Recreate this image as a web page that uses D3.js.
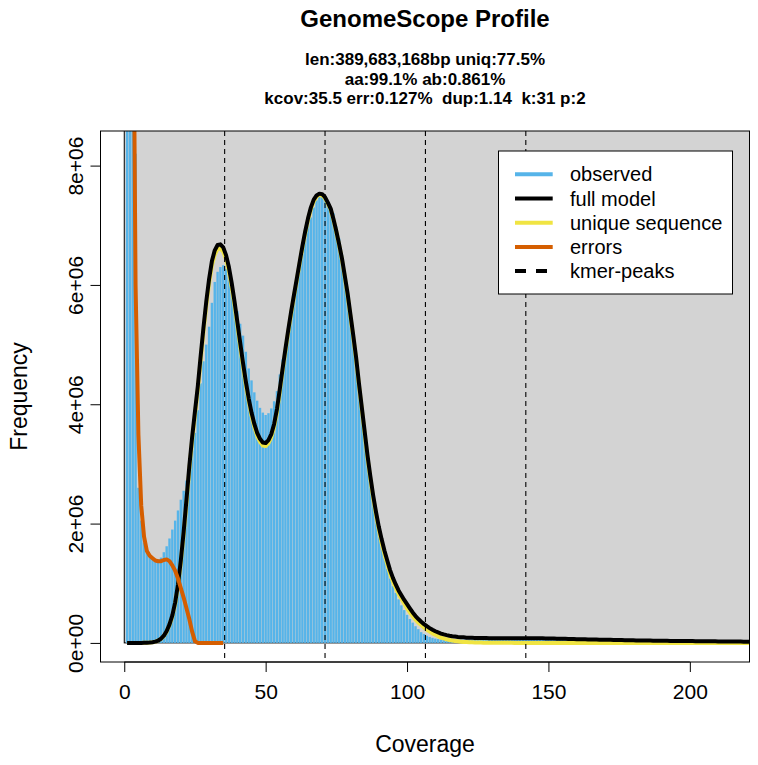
<!DOCTYPE html>
<html>
<head>
<meta charset="utf-8">
<script src="https://cdn.jsdelivr.net/npm/d3@7"></script>
<style>
  html, body { margin: 0; padding: 0; background: #ffffff; }
  svg { display: block; font-family: "Liberation Sans", Arial, Helvetica, sans-serif; }
</style>
</head>
<body>
<svg id="chart" width="758" height="765"></svg>
<script>
// ---------------- DATA (frequencies in units of 1e6) ----------------
const titleText = "GenomeScope Profile";
const subtitleLines = [
  "len:389,683,168bp uniq:77.5%",
  "aa:99.1% ab:0.861%",
  "kcov:35.5 err:0.127%  dup:1.14  k:31 p:2"
];
const xTicks = [0, 50, 100, 150, 200];
const yTicks = [0, 2, 4, 6, 8];
const yTickLabels = ["0e+00", "2e+06", "4e+06", "6e+06", "8e+06"];
const kmerPeaks = [35.5, 71, 106.5, 142];
const legendLabels = ["observed", "full model", "unique sequence", "errors", "kmer-peaks"];

// observed histogram, coverage 1..221
const observed = [
  120, 45, 16, 8.2, 2.6, 2.05, 1.68, 1.52, 1.45, 1.42,
  1.40, 1.40, 1.43, 1.52, 1.62, 1.75, 1.90, 2.05, 2.22, 2.40,
  2.55, 2.72, 2.95, 3.22, 3.52, 3.90, 4.35, 4.72, 5.00, 5.30,
  5.70, 6.05, 6.22, 6.30, 6.33, 6.27, 6.13, 5.98, 5.78, 5.56,
  5.35, 5.15, 4.88, 4.60, 4.40, 4.20, 4.06, 3.94, 3.86, 3.82,
  3.85, 3.93, 4.05, 4.22, 4.50, 4.75, 5.00, 5.25, 5.50, 5.75,
  6.00, 6.28, 6.52, 6.78, 7.00, 7.13, 7.30, 7.42, 7.48, 7.47,
  7.43, 7.37, 7.30, 7.20, 6.98, 6.78, 6.50, 6.20, 5.88, 5.50,
  5.12, 4.72, 4.30, 3.90, 3.50, 3.10, 2.75, 2.42, 2.12, 1.85,
  1.62, 1.42, 1.24, 1.08, 0.95, 0.84, 0.73, 0.63, 0.55, 0.47,
  0.40, 0.34, 0.28, 0.23, 0.18, 0.15, 0.12, 0.10, 0.085, 0.072,
  0.064, 0.058, 0.055, 0.053, 0.052, 0.052, 0.052, 0.053, 0.053, 0.054,
  0.055, 0.056, 0.057, 0.058, 0.059, 0.060, 0.060, 0.061, 0.062, 0.062,
  0.063, 0.063, 0.064, 0.064, 0.065, 0.065, 0.065, 0.066, 0.066, 0.066,
  0.066, 0.066, 0.066, 0.065, 0.065, 0.065, 0.064, 0.064, 0.063, 0.062,
  0.061, 0.060, 0.059, 0.058, 0.057, 0.056, 0.055, 0.054, 0.053, 0.052,
  0.051, 0.050, 0.049, 0.048, 0.047, 0.046, 0.045, 0.044, 0.043, 0.042,
  0.041, 0.040, 0.039, 0.038, 0.037, 0.036, 0.036, 0.035, 0.034, 0.033,
  0.033, 0.032, 0.031, 0.031, 0.030, 0.029, 0.029, 0.028, 0.028, 0.027,
  0.026, 0.026, 0.025, 0.025, 0.024, 0.024, 0.023, 0.023, 0.022, 0.022,
  0.021, 0.021, 0.020, 0.020, 0.020, 0.019, 0.019, 0.018, 0.018, 0.018,
  0.017, 0.017, 0.017, 0.016, 0.016, 0.016, 0.015, 0.015, 0.015, 0.014,
  0.014
];

// full model, coverage 1..221
const fullModel = [
  0.000, 0.000, 0.000, 0.000, 0.000, 0.000, 0.001, 0.003, 0.006, 0.012,
  0.022, 0.040, 0.070, 0.120, 0.200, 0.310, 0.460, 0.680, 0.980, 1.380,
  1.860, 2.400, 2.960, 3.450, 3.880, 4.300, 4.800, 5.280, 5.720, 6.100,
  6.400, 6.580, 6.670, 6.680, 6.630, 6.500, 6.300, 6.030, 5.720, 5.380,
  5.030, 4.690, 4.380, 4.100, 3.860, 3.670, 3.520, 3.420, 3.360, 3.350,
  3.400, 3.500, 3.670, 3.920, 4.250, 4.600, 4.930, 5.250, 5.550, 5.830,
  6.100, 6.380, 6.650, 6.900, 7.120, 7.300, 7.430, 7.500, 7.530, 7.520,
  7.470, 7.380, 7.280, 7.100, 6.900, 6.680, 6.440, 6.150, 5.850, 5.500,
  5.150, 4.780, 4.350, 3.950, 3.550, 3.150, 2.800, 2.480, 2.200, 1.950,
  1.740, 1.550, 1.380, 1.220, 1.090, 0.980, 0.880, 0.800, 0.720, 0.650,
  0.580, 0.510, 0.450, 0.400, 0.355, 0.315, 0.280, 0.248, 0.220, 0.195,
  0.175, 0.157, 0.142, 0.130, 0.120, 0.112, 0.106, 0.100, 0.096, 0.093,
  0.088, 0.086, 0.085, 0.084, 0.083, 0.082, 0.081, 0.081, 0.080, 0.080,
  0.080, 0.080, 0.080, 0.080, 0.080, 0.080, 0.080, 0.080, 0.080, 0.080,
  0.080, 0.080, 0.079, 0.079, 0.078, 0.078, 0.077, 0.076, 0.075, 0.074,
  0.073, 0.072, 0.071, 0.070, 0.069, 0.068, 0.067, 0.066, 0.065, 0.063,
  0.062, 0.061, 0.060, 0.059, 0.058, 0.057, 0.056, 0.055, 0.054, 0.053,
  0.052, 0.051, 0.050, 0.049, 0.048, 0.047, 0.046, 0.045, 0.044, 0.043,
  0.042, 0.042, 0.041, 0.040, 0.040, 0.039, 0.038, 0.038, 0.037, 0.036,
  0.036, 0.035, 0.034, 0.034, 0.033, 0.032, 0.032, 0.031, 0.031, 0.030,
  0.030, 0.029, 0.029, 0.028, 0.028, 0.027, 0.027, 0.026, 0.026, 0.025,
  0.025, 0.024, 0.024, 0.023, 0.023, 0.022, 0.022, 0.022, 0.021, 0.021,
  0.020
];

// unique sequence, coverage 1..221
const uniqueSeq = [
  0.000, 0.000, 0.000, 0.000, 0.000, 0.000, 0.001, 0.003, 0.006, 0.012,
  0.022, 0.040, 0.068, 0.115, 0.190, 0.300, 0.440, 0.650, 0.950, 1.340,
  1.810, 2.340, 2.900, 3.390, 3.820, 4.240, 4.730, 5.210, 5.650, 6.030,
  6.330, 6.510, 6.600, 6.610, 6.560, 6.430, 6.230, 5.960, 5.650, 5.310,
  4.960, 4.630, 4.320, 4.050, 3.810, 3.620, 3.470, 3.370, 3.310, 3.300,
  3.350, 3.450, 3.620, 3.870, 4.200, 4.560, 4.890, 5.210, 5.510, 5.800,
  6.070, 6.350, 6.620, 6.870, 7.090, 7.270, 7.400, 7.480, 7.510, 7.500,
  7.450, 7.360, 7.260, 7.080, 6.880, 6.660, 6.410, 6.120, 5.810, 5.460,
  5.110, 4.740, 4.310, 3.910, 3.500, 3.100, 2.750, 2.430, 2.150, 1.900,
  1.680, 1.490, 1.320, 1.160, 1.030, 0.920, 0.820, 0.740, 0.660, 0.580,
  0.510, 0.450, 0.390, 0.340, 0.300, 0.260, 0.220, 0.190, 0.160, 0.135,
  0.110, 0.090, 0.075, 0.060, 0.050, 0.040, 0.032, 0.026, 0.021, 0.017,
  0.014, 0.011, 0.009, 0.007, 0.006, 0.005, 0.004, 0.003, 0.003, 0.002,
  0.002, 0.002, 0.001, 0.001, 0.001, 0.001, 0.001, 0.000, 0.000, 0.000,
  0.000, 0.000, 0.000, 0.000, 0.000, 0.000, 0.000, 0.000, 0.000, 0.000,
  0.000, 0.000, 0.000, 0.000, 0.000, 0.000, 0.000, 0.000, 0.000, 0.000,
  0.000, 0.000, 0.000, 0.000, 0.000, 0.000, 0.000, 0.000, 0.000, 0.000,
  0.000, 0.000, 0.000, 0.000, 0.000, 0.000, 0.000, 0.000, 0.000, 0.000,
  0.000, 0.000, 0.000, 0.000, 0.000, 0.000, 0.000, 0.000, 0.000, 0.000,
  0.000, 0.000, 0.000, 0.000, 0.000, 0.000, 0.000, 0.000, 0.000, 0.000,
  0.000, 0.000, 0.000, 0.000, 0.000, 0.000, 0.000, 0.000, 0.000, 0.000,
  0.000, 0.000, 0.000, 0.000, 0.000, 0.000, 0.000, 0.000, 0.000, 0.000,
  0.000
];

// error model, coverage 1..35
const errorsModel = [
  60, 28, 12.5, 6.0, 3.5, 2.3, 1.78, 1.54, 1.46, 1.42,
  1.38, 1.37, 1.37, 1.39, 1.40, 1.37, 1.30, 1.21, 1.08, 0.92,
  0.76, 0.58, 0.40, 0.19, 0.03, 0, 0, 0, 0, 0,
  0, 0, 0, 0, 0
];

// ---------------- CHART ----------------
const svg = d3.select("#chart");
const plot = { left: 100.5, right: 749.5, top: 131, bottom: 662 };

const x = d3.scaleLinear().domain([-8.4, 221.1]).range([plot.left, plot.right]);
const y = d3.scaleLinear().domain([-0.32, 8.58]).range([plot.bottom, plot.top]);

const cov = observed.map((v, i) => i + 1);

svg.append("defs").append("clipPath").attr("id", "clip")
  .append("rect")
  .attr("x", plot.left).attr("y", plot.top)
  .attr("width", plot.right - plot.left).attr("height", plot.bottom - plot.top);

const g = svg.append("g").attr("clip-path", "url(#clip)");

// gray background (starts at data origin, with black border)
g.append("rect")
  .attr("x", x(0)).attr("y", plot.top - 20)
  .attr("width", plot.right - x(0) + 20)
  .attr("height", y(0) - plot.top + 20)
  .attr("fill", "#d3d3d3")
  .attr("stroke", "#000").attr("stroke-width", 1);

// observed bars
g.selectAll("rect.bar").data(observed).enter().append("rect")
  .attr("class", "bar")
  .attr("x", (d, i) => x(cov[i]) - 1.2)
  .attr("width", 2.4)
  .attr("y", d => y(d))
  .attr("height", d => Math.max(0, y(0) - y(d)))
  .attr("fill", "#56B4E9");

const line = d3.line().x(d => x(d[0])).y(d => y(d[1]));

g.append("path")
  .datum(uniqueSeq.map((v, i) => [i + 1, v]))
  .attr("d", line).attr("fill", "none")
  .attr("stroke", "#F0E442").attr("stroke-width", 4).attr("stroke-linejoin", "round");

g.append("path")
  .datum(fullModel.map((v, i) => [i + 1, v]))
  .attr("d", line).attr("fill", "none")
  .attr("stroke", "#000").attr("stroke-width", 4).attr("stroke-linejoin", "round");

g.append("path")
  .datum(errorsModel.map((v, i) => [i + 1, v]))
  .attr("d", line).attr("fill", "none")
  .attr("stroke", "#D55E00").attr("stroke-width", 4).attr("stroke-linejoin", "round");

// kmer peak lines
g.selectAll("line.peak").data(kmerPeaks).enter().append("line")
  .attr("x1", d => x(d)).attr("x2", d => x(d))
  .attr("y1", plot.top).attr("y2", plot.bottom)
  .attr("stroke", "#000").attr("stroke-width", 1.1)
  .attr("stroke-dasharray", "5,4");

// frame
svg.append("rect")
  .attr("x", plot.left).attr("y", plot.top)
  .attr("width", plot.right - plot.left).attr("height", plot.bottom - plot.top)
  .attr("fill", "none").attr("stroke", "#000").attr("stroke-width", 1);

// axes
const xAxis = d3.axisBottom(x).tickValues(xTicks).tickSize(10).tickPadding(12).tickSizeOuter(0);
const xg = svg.append("g").attr("transform", `translate(0,${plot.bottom})`).call(xAxis);
xg.select(".domain").attr("d", `M${x(xTicks[0])},0H${x(xTicks[xTicks.length - 1])}`);
xg.selectAll("text").attr("font-size", 21).attr("fill", "#000")
  .attr("font-family", "Liberation Sans, Arial, sans-serif");
xg.selectAll("line, path").attr("stroke", "#000");

const yAxis = d3.axisLeft(y).tickValues(yTicks).tickFormat((d, i) => yTickLabels[i]).tickSize(10).tickSizeOuter(0);
const yg = svg.append("g").attr("transform", `translate(${plot.left},0)`).call(yAxis);
yg.select(".domain").attr("d", `M0,${y(yTicks[0])}V${y(yTicks[yTicks.length - 1])}`);
yg.selectAll("line, path").attr("stroke", "#000");
yg.selectAll("text")
  .attr("font-size", 21).attr("fill", "#000")
  .attr("font-family", "Liberation Sans, Arial, sans-serif")
  .attr("text-anchor", "middle")
  .attr("x", 0).attr("y", 0).attr("dy", 0)
  .attr("transform", "translate(-18,0) rotate(-90)");

// axis titles
svg.append("text").attr("x", (plot.left + plot.right) / 2).attr("y", 752)
  .attr("text-anchor", "middle").attr("font-size", 23).text("Coverage");
svg.append("text")
  .attr("transform", `translate(27,${(plot.top + plot.bottom) / 2}) rotate(-90)`)
  .attr("text-anchor", "middle").attr("font-size", 23).text("Frequency");

// title
svg.append("text").attr("x", (plot.left + plot.right) / 2).attr("y", 27)
  .attr("text-anchor", "middle").attr("font-size", 24).attr("font-weight", "bold")
  .text(titleText);
svg.selectAll("text.sub").data(subtitleLines).enter().append("text")
  .attr("class", "sub")
  .attr("x", (plot.left + plot.right) / 2)
  .attr("y", (d, i) => 65 + i * 19.7)
  .attr("text-anchor", "middle").attr("font-size", 17).attr("font-weight", "bold")
  .attr("xml:space", "preserve")
  .style("white-space", "pre")
  .text(d => d);

// legend
const lg = svg.append("g");
const lx = 498.5, ly = 151, lw = 234, lh = 143;
lg.append("rect").attr("x", lx).attr("y", ly).attr("width", lw).attr("height", lh)
  .attr("fill", "#fff").attr("stroke", "#000").attr("stroke-width", 1);
const legColors = ["#56B4E9", "#000", "#F0E442", "#D55E00", "#000"];
const legDash = [null, null, null, null, "11,10"];
legendLabels.forEach((lab, i) => {
  const yy = 174.3 + i * 24.2;
  lg.append("line").attr("x1", 515).attr("x2", 552.7).attr("y1", yy).attr("y2", yy)
    .attr("stroke", legColors[i]).attr("stroke-width", 4)
    .attr("stroke-dasharray", legDash[i]);
  lg.append("text").attr("x", 570).attr("y", yy + 7).attr("font-size", 20).text(lab);
});
</script>
</body>
</html>
